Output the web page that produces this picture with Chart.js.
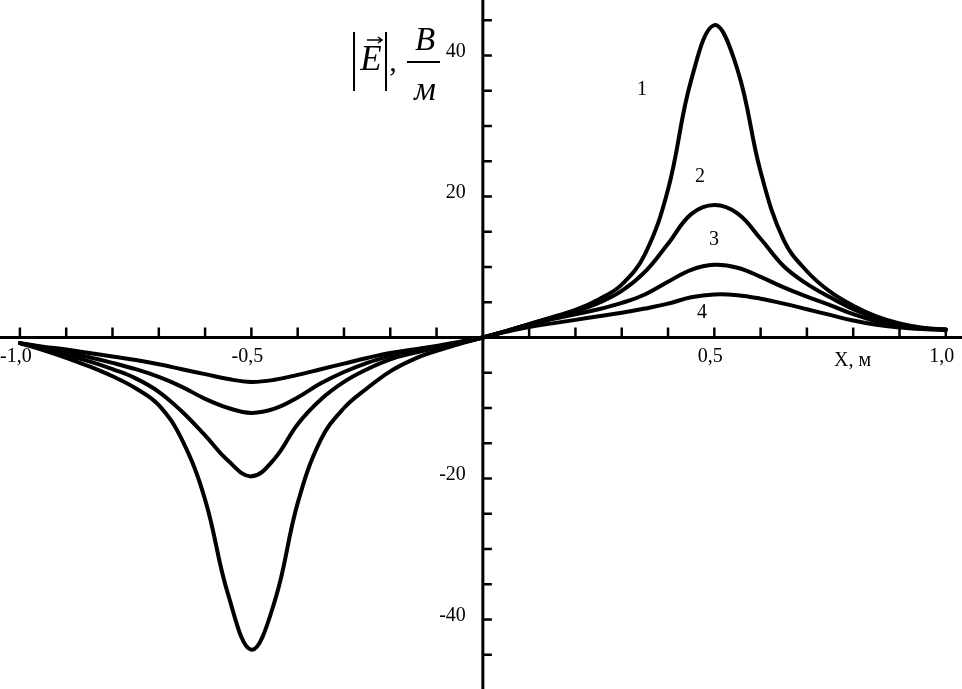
<!DOCTYPE html>
<html>
<head>
<meta charset="utf-8">
<script src="https://cdn.jsdelivr.net/npm/chart.js@4.4.0/dist/chart.umd.min.js"></script>
<style>
html, body { margin: 0; padding: 0; background: #fff; }
#wrap { width: 962px; height: 689px; }
</style>
</head>
<body>
<div id="wrap"><canvas id="fieldChart" width="962" height="689"></canvas></div>
<script>
// X, m
var xValues = [-1.0, -0.95, -0.9, -0.85, -0.8, -0.75, -0.7, -0.65, -0.6, -0.55, -0.5,
               -0.45, -0.4, -0.35, -0.3, -0.25, -0.2, -0.15, -0.1, -0.05, 0,
               0.05, 0.1, 0.15, 0.2, 0.25, 0.3, 0.35, 0.4, 0.45, 0.5,
               0.55, 0.6, 0.65, 0.7, 0.75, 0.8, 0.85, 0.9, 0.95, 1.0];

// |E|, V/m
var curve1 = [-0.8, -1.8, -2.9, -4.1, -5.5, -7.2, -9.6, -14.5, -23.0, -36.5, -44.3,
              -37.5, -23.5, -14.5, -10.0, -7.2, -4.8, -3.1, -1.9, -0.9, 0,
              0.9, 1.9, 2.9, 3.9, 5.4, 7.5, 11.8, 21.0, 36.5, 44.3,
              38.0, 23.5, 13.8, 9.4, 6.5, 4.5, 3.0, 2.0, 1.4, 1.1];
var curve2 = [-0.8, -1.6, -2.5, -3.4, -4.5, -5.8, -7.7, -10.5, -13.9, -17.5, -19.7,
              -17.2, -12.3, -8.8, -6.3, -4.5, -3.1, -2.2, -1.5, -0.8, 0,
              0.9, 1.9, 2.8, 3.7, 4.9, 6.6, 9.3, 13.3, 17.5, 18.8,
              17.6, 14.0, 10.1, 7.6, 5.7, 4.0, 2.7, 1.8, 1.3, 1.1];
var curve3 = [-0.8, -1.4, -2.1, -2.8, -3.6, -4.5, -5.6, -7.0, -8.7, -10.0, -10.7,
              -10.1, -8.5, -6.5, -4.9, -3.6, -2.6, -1.8, -1.3, -0.7, 0,
              0.9, 1.8, 2.6, 3.3, 4.0, 4.9, 6.1, 7.9, 9.6, 10.3,
              9.9, 8.6, 7.1, 5.8, 4.6, 3.3, 2.3, 1.6, 1.2, 1.1];
var curve4 = [-0.8, -1.3, -1.7, -2.2, -2.7, -3.2, -3.8, -4.5, -5.2, -5.9, -6.3,
              -6.0, -5.3, -4.5, -3.7, -2.9, -2.2, -1.7, -1.2, -0.6, 0,
              0.8, 1.5, 2.0, 2.5, 3.0, 3.5, 4.1, 4.8, 5.7, 6.1,
              6.0, 5.5, 4.8, 4.0, 3.2, 2.4, 1.8, 1.4, 1.2, 1.1];
var curveNames = ['1', '2', '3', '4'];

var xTicks = [-1.0, -0.9, -0.8, -0.7, -0.6, -0.5, -0.4, -0.3, -0.2, -0.1,
              0.1, 0.2, 0.3, 0.4, 0.5, 0.6, 0.7, 0.8, 0.9, 1.0];
var xLabelValues = [-1.0, -0.5, 0.5, 1.0];
var xLabelTexts = ['-1,0', '-0,5', '0,5', '1,0'];
var yTicks = [-45, -40, -35, -30, -25, -20, -15, -10, -5, 5, 10, 15, 20, 25, 30, 35, 40, 45];
var yLabelValues = [40, 20, -20, -40];
var yLabelTexts = ['40', '20', '-20', '-40'];

function toPoints(ys) {
    return xValues.map(function (x, i) { return { x: x, y: ys[i] }; });
}

var serif = '"Liberation Serif", "DejaVu Serif", serif';

var axesPlugin = {
    id: 'crossAxes',
    beforeDatasetsDraw: function (chart) {
        var ctx = chart.ctx;
        var xs = chart.scales.x, ys = chart.scales.y;
        var x0 = xs.getPixelForValue(0), y0 = ys.getPixelForValue(0);
        ctx.save();
        ctx.strokeStyle = '#000';
        ctx.fillStyle = '#000';
        // axis lines
        ctx.lineWidth = 3;
        ctx.beginPath();
        ctx.moveTo(0, y0); ctx.lineTo(chart.width, y0);
        ctx.moveTo(x0, 0); ctx.lineTo(x0, chart.height);
        ctx.stroke();
        // tick marks
        ctx.lineWidth = 2.5;
        ctx.beginPath();
        xTicks.forEach(function (v) {
            var p = xs.getPixelForValue(v);
            ctx.moveTo(p, y0); ctx.lineTo(p, y0 - 10);
        });
        yTicks.forEach(function (v) {
            var p = ys.getPixelForValue(v);
            ctx.moveTo(x0, p); ctx.lineTo(x0 + 9, p);
        });
        ctx.stroke();
        // tick labels
        ctx.font = '20px ' + serif;
        ctx.textBaseline = 'alphabetic';
        ctx.textAlign = 'center';
        xLabelValues.forEach(function (v, i) {
            ctx.fillText(xLabelTexts[i], xs.getPixelForValue(v) - 4, y0 + 25);
        });
        ctx.textAlign = 'right';
        yLabelValues.forEach(function (v, i) {
            ctx.fillText(yLabelTexts[i], x0 - 17, ys.getPixelForValue(v) + 2);
        });
        ctx.textAlign = 'left';
        ctx.fillText('X, м', 834, y0 + 29);
        ctx.restore();
    },
    afterDatasetsDraw: function (chart) {
        var ctx = chart.ctx;
        ctx.save();
        ctx.fillStyle = '#000';
        ctx.strokeStyle = '#000';
        // curve numbers
        var spots = [[642, 95], [700, 182], [714, 245], [702, 318]];
        ctx.font = '20px ' + serif;
        ctx.textAlign = 'center';
        curveNames.forEach(function (t, i) {
            ctx.fillText(t, spots[i][0], spots[i][1]);
        });
        // axis title |E|, B/м
        ctx.lineWidth = 2;
        ctx.beginPath();
        ctx.moveTo(354, 32); ctx.lineTo(354, 91);
        ctx.moveTo(386, 32); ctx.lineTo(386, 91);
        ctx.stroke();
        ctx.font = 'italic 35px ' + serif;
        ctx.fillText('E', 371, 70);
        ctx.lineWidth = 1.5;
        ctx.beginPath();
        ctx.moveTo(367, 40); ctx.lineTo(382, 40);
        ctx.moveTo(378, 37); ctx.lineTo(382, 40); ctx.lineTo(378, 43);
        ctx.stroke();
        ctx.font = '30px ' + serif;
        ctx.fillText(',', 393, 71);
        ctx.font = 'italic 33px ' + serif;
        ctx.fillText('B', 425, 50);
        ctx.lineWidth = 2;
        ctx.beginPath();
        ctx.moveTo(407, 62); ctx.lineTo(440, 62);
        ctx.stroke();
        ctx.font = 'italic 34px ' + serif;
        ctx.fillText('м', 425, 100);
        ctx.restore();
    }
};

function lineSet(label, ys) {
    return {
        label: label,
        data: toPoints(ys),
        borderColor: '#000',
        borderWidth: 4,
        pointRadius: 0,
        fill: false,
        tension: 0.4,
        borderCapStyle: 'round',
        borderJoinStyle: 'round'
    };
}

new Chart(document.getElementById('fieldChart').getContext('2d'), {
    type: 'line',
    data: {
        datasets: [
            lineSet('1', curve1),
            lineSet('2', curve2),
            lineSet('3', curve3),
            lineSet('4', curve4)
        ]
    },
    options: {
        responsive: false,
        animation: false,
        devicePixelRatio: 1,
        layout: { padding: 0 },
        plugins: { legend: { display: false }, tooltip: { enabled: false } },
        scales: {
            x: { type: 'linear', min: -1.043, max: 1.035, display: false },
            y: { type: 'linear', min: -49.86, max: 47.87, display: false }
        }
    },
    plugins: [axesPlugin]
});
</script>
</body>
</html>
